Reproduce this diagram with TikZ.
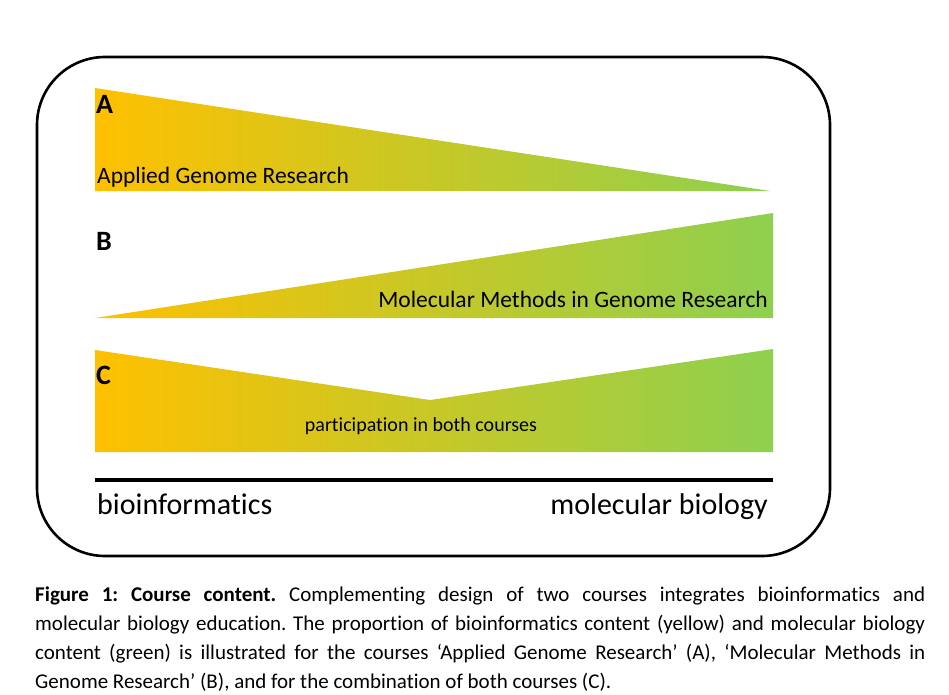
\documentclass[tikz,border=0pt]{standalone}
\usepackage{fontspec}
\setmainfont{Carlito}[Ligatures=NoCommon]
\begin{document}
\begin{tikzpicture}[x=1pt,y=-1pt,
  band/.style={left color=yel,right color=grn},
  lbl/.style={font=\fontsize{28}{30}\selectfont\bfseries,anchor=base west,inner sep=0pt},
  ttl/.style={font=\fontsize{23.5}{26}\selectfont,inner sep=0pt},
  axis/.style={font=\fontsize{30}{33}\selectfont,inner sep=0pt}]
\definecolor{yel}{HTML}{FFC000}
\definecolor{grn}{HTML}{8ED04F}
\useasboundingbox (0,0) rectangle (949,695);
% frame
\draw[line width=2.6pt,rounded corners=68pt] (37,57) rectangle (830,556);
% A
\shade[band] (95,88) -- (770,191) -- (95,191) -- cycle;
\node[lbl] (la) at (96,114) {A};
\node[ttl,anchor=base west] (ta) at (97,183) {Applied Genome Research};
% B
\shade[band] (95,318) -- (773,213) -- (773,318) -- cycle;
\node[lbl] (lb) at (96,250) {B};
\node[ttl,anchor=base east] (tb) at (768,307) {Molecular Methods in Genome Research};
% C
\shade[band] (95,350) -- (430,400) -- (773,349) -- (773,452) -- (95,452) -- cycle;
\node[lbl] (lc) at (96,384) {C};
\node[font=\fontsize{20}{22}\selectfont,inner sep=0pt,anchor=base] (tc) at (421,431) {participation in both courses};
% axis
\coordinate (l0) at (95,480);
\coordinate (l1) at (773,480);
\draw[line width=4pt] (l0) -- (l1);
\node[axis,anchor=base west] (bi) at (97,514) {bioinformatics};
\node[axis,anchor=base east] (mb) at (768,514) {molecular biology};
% caption
\node[anchor=north west,inner sep=0pt,text width=890pt,align=justify,
  font=\fontsize{21}{29}\selectfont] (cap) at (35,587)
  {\hyphenpenalty=10000\relax\frenchspacing\textbf{Figure 1: Course content.} Complementing design of two courses integrates bioinformatics and\linebreak molecular biology education. The proportion of bioinformatics content (yellow) and molecular biology\linebreak content (green) is illustrated for the courses ‘Applied Genome Research’ (A), ‘Molecular Methods in\linebreak Genome Research’ (B), and for the combination of both courses (C).};
\end{tikzpicture}
\end{document}
